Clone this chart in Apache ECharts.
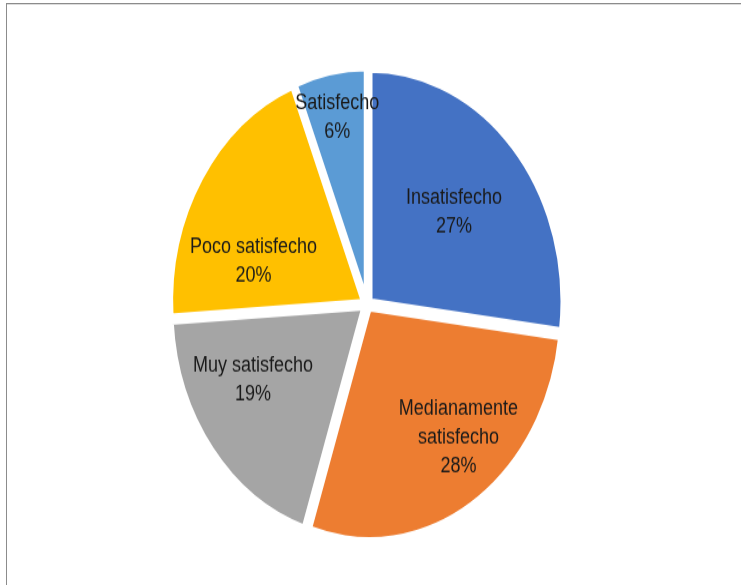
<!DOCTYPE html>
<html>
<head>
<meta charset="utf-8">
<script src="https://cdn.jsdelivr.net/npm/echarts@6/dist/echarts.min.js"></script>
<style>
  html, body { margin: 0; padding: 0; background: #fff; overflow: hidden; }
  #frame {
    position: absolute; left: 6px; top: 3px; width: 760px; height: 600px;
    border-left: 1px solid #8c8c8c; border-top: 1px solid #8c8c8c;
    box-shadow: inset 0 1px 0 #dcdcdc;
  }
  #chart {
    position: absolute; left: 0; top: 0; width: 741px; height: 488px;
    transform: scaleY(1.19877); transform-origin: 0 0;
  }
</style>
</head>
<body>
<div id="frame"></div>
<div id="chart"></div>
<script>
// Satisfaction levels and their shares (%)
const categories = ['Insatisfecho', 'Medianamente\nsatisfecho', 'Muy satisfecho', 'Poco satisfecho', 'Satisfecho'];
const values = [27, 28, 19, 20, 6];
const colors = ['#4472C4', '#ED7D31', '#A5A5A5', '#FFC000', '#5B9BD5'];

// Label placement: [angle nudge in degrees, distance from centre in px]
const labelPolar = [[0, 116], [-7, 144], [9, 130], [-15, 119], [0, 159]];

const CX = 367, CY = 254, R = 193;
const total = values.reduce((a, b) => a + b, 0);
const midAngles = [];
let acc = 0;
values.forEach(v => { midAngles.push((acc + v / 2) / total * 360); acc += v; });

const pieBase = {
  type: 'pie',
  center: [CX, CY],
  radius: [0, R],
  startAngle: 90,
  clockwise: true,
  emphasis: { disabled: true },
  labelLine: { show: false }
};

const chart = echarts.init(document.getElementById('chart'), null, { renderer: 'canvas' });
chart.setOption({
  animation: false,
  series: [
    // Exploded slices
    Object.assign({}, pieBase, {
      selectedMode: 'multiple',
      selectedOffset: 4,
      data: categories.map((name, i) => ({
        name: name, value: values[i], selected: true, itemStyle: { color: colors[i] }
      })),
      itemStyle: { borderColor: '#ffffff', borderWidth: 5, borderJoin: 'miter' },
      label: { show: false }
    }),
    // Category / percentage labels on top of the slices
    Object.assign({}, pieBase, {
      silent: true,
      z: 3,
      data: categories.map((name, i) => ({ name: name, value: values[i] })),
      itemStyle: { color: 'rgba(0,0,0,0)', borderWidth: 0 },
      label: {
        show: true,
        position: 'inside',
        formatter: p => p.name + '\n' + p.value + '%',
        fontFamily: '"Liberation Sans", Arial, sans-serif',
        fontSize: 18,
        lineHeight: 24,
        color: '#1a1a1a',
        align: 'center'
      },
      labelLayout: function (params) {
        const i = params.dataIndex;
        const a = (midAngles[i] + labelPolar[i][0]) * Math.PI / 180;
        const d = labelPolar[i][1];
        return {
          x: CX + d * Math.sin(a),
          y: CY - d * Math.cos(a),
          align: 'center',
          verticalAlign: 'middle'
        };
      }
    })
  ]
});
</script>
</body>
</html>
